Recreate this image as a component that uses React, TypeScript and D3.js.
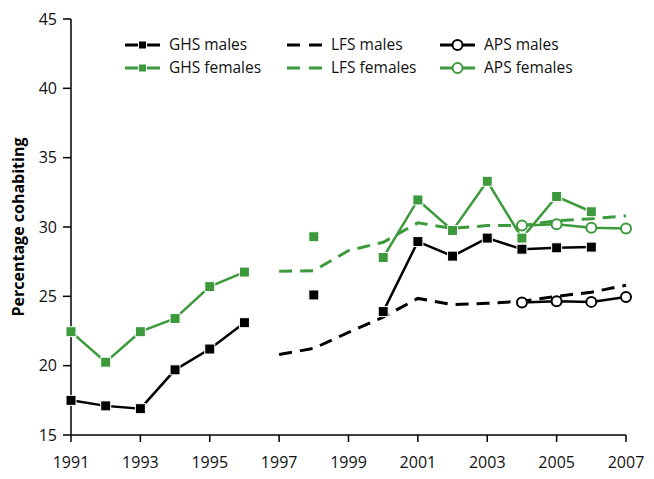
import * as d3 from 'd3';

const years = [1991, 1992, 1993, 1994, 1995, 1996, 1997, 1998, 1999, 2000, 2001, 2002, 2003, 2004, 2005, 2006, 2007];
const ghsMales = [17.5, 17.1, 16.9, 19.7, 21.2, 23.1, null, 25.1, null, 23.9, 28.95, 27.9, 29.2, 28.4, 28.5, 28.55, null];
const ghsFemales = [22.45, 20.25, 22.45, 23.4, 25.7, 26.75, null, 29.3, null, 27.8, 31.95, 29.75, 33.3, 29.2, 32.2, 31.1, null];
const lfsMales = [null, null, null, null, null, null, 20.8, 21.25, 22.4, 23.5, 24.85, 24.4, 24.5, 24.65, 25.0, 25.3, 25.8];
const lfsFemales = [null, null, null, null, null, null, 26.8, 26.85, 28.3, 28.9, 30.3, 29.9, 30.1, 30.1, 30.45, 30.6, 30.8];
const apsMales = [null, null, null, null, null, null, null, null, null, null, null, null, null, 24.55, 24.65, 24.6, 24.95];
const apsFemales = [null, null, null, null, null, null, null, null, null, null, null, null, null, 30.1, 30.2, 29.95, 29.9];
const xTicks = [1991, 1993, 1995, 1997, 1999, 2001, 2003, 2005, 2007];
const yTicks = [15, 20, 25, 30, 35, 40, 45];

const GREEN = '#3d9a3c';
const FONT = '"Open Sans", sans-serif';

type Series = {
  name: string;
  values: (number | null)[];
  color: string;
  dashed: boolean;
  marker: 'square' | 'circle' | 'none';
};

const series: Series[] = [
  { name: 'LFS males', values: lfsMales, color: '#000', dashed: true, marker: 'none' },
  { name: 'LFS females', values: lfsFemales, color: GREEN, dashed: true, marker: 'none' },
  { name: 'GHS males', values: ghsMales, color: '#000', dashed: false, marker: 'square' },
  { name: 'GHS females', values: ghsFemales, color: GREEN, dashed: false, marker: 'square' },
  { name: 'APS males', values: apsMales, color: '#000', dashed: false, marker: 'circle' },
  { name: 'APS females', values: apsFemales, color: GREEN, dashed: false, marker: 'circle' },
];

const legendOrder = ['GHS males', 'GHS females', 'LFS males', 'LFS females', 'APS males', 'APS females'];

const margin = { top: 19, right: 28, bottom: 44, left: 71 };
const W = 654;
const H = 479;

export default function App() {
  const x = d3.scaleLinear().domain([1991, 2007]).range([margin.left, W - margin.right]);
  const y = d3.scaleLinear().domain([15, 45]).range([H - margin.bottom, margin.top]);

  const line = d3
    .line<number | null>()
    .defined((d) => d !== null)
    .x((_, i) => x(years[i]))
    .y((d) => y(d as number));

  const drawMarker = (s: Series, cx: number, cy: number, key: string, size = 10) => {
    if (s.marker === 'square') {
      return (
        <rect key={key} x={cx - size / 2} y={cy - size / 2} width={size} height={size}
          fill={s.color} stroke="#fff" strokeWidth={1} />
      );
    }
    if (s.marker === 'circle') {
      return <circle key={key} cx={cx} cy={cy} r={size / 2} fill="#fff" stroke={s.color} strokeWidth={2} />;
    }
    return null;
  };

  const legendCols = [125, 287, 440];
  const legendRows = [45, 68];

  return (
    <div style={{ position: 'absolute', left: 0, top: 0 }}>
      <svg width={W} height={H} style={{ display: 'block', fontFamily: FONT }}>
        <rect width={W} height={H} fill="#fff" />

        {/* axes */}
        <line x1={margin.left} x2={margin.left} y1={y(45)} y2={y(15)} stroke="#000" strokeWidth={1.5} />
        <line x1={x(1991)} x2={x(2007)} y1={y(15)} y2={y(15)} stroke="#000" strokeWidth={1.5} />
        {yTicks.map((t) => (
          <g key={t}>
            <line x1={margin.left - 8} x2={margin.left} y1={y(t)} y2={y(t)} stroke="#000" strokeWidth={1.5} />
            <text x={margin.left - 14} y={y(t)} dy="0.35em" textAnchor="end" fontSize={16} fill="#111">
              {t}
            </text>
          </g>
        ))}
        {xTicks.map((t) => (
          <g key={t}>
            <line x1={x(t)} x2={x(t)} y1={y(15)} y2={y(15) + 7} stroke="#000" strokeWidth={1.5} />
            <text x={x(t)} y={y(15) + 27} dy="0.35em" textAnchor="middle" fontSize={16} fill="#111">
              {t}
            </text>
          </g>
        ))}
        <text transform={`translate(18,${227}) rotate(-90)`} textAnchor="middle" dy="0.35em"
          fontSize={16} fontWeight="bold" fill="#000">
          Percentage cohabiting
        </text>

        {/* lines */}
        {series.map((s) => (
          <path key={s.name} d={line(s.values) ?? ''} fill="none" stroke={s.color}
            strokeWidth={s.dashed ? 3 : 2.5} strokeDasharray={s.dashed ? '13,8' : undefined} />
        ))}
        {/* markers */}
        {series.map((s) =>
          s.values.map((v, i) => (v === null ? null : drawMarker(s, x(years[i]), y(v), `${s.name}-${i}`)))
        )}

        {/* legend */}
        {legendOrder.map((name, i) => {
          const s = series.find((d) => d.name === name)!;
          const lx = legendCols[Math.floor(i / 2)];
          const ly = legendRows[i % 2];
          return (
            <g key={name}>
              <line x1={lx} x2={lx + 35} y1={ly} y2={ly} stroke={s.color} strokeWidth={3}
                strokeDasharray={s.dashed ? '13,9' : undefined} />
              {drawMarker(s, lx + 17.5, ly, `lg-${name}`, s.marker === 'square' ? 8 : 10)}
              <text x={lx + 44} y={ly} dy="0.35em" fontSize={15.5} fill="#111">
                {name}
              </text>
            </g>
          );
        })}
      </svg>
    </div>
  );
}
